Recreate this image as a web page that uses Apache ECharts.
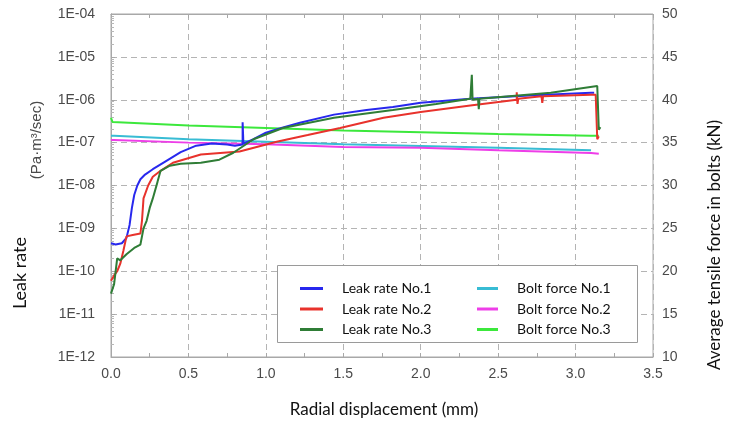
<!DOCTYPE html>
<html>
<head>
<meta charset="utf-8">
<script src="https://cdn.jsdelivr.net/npm/echarts@6/dist/echarts.min.js"></script>
<style>
  html, body { margin: 0; padding: 0; background: #fff; }
  #chart { width: 730px; height: 423px; }
</style>
</head>
<body>
<div id="chart"></div>
<script>
// leak rate curves (left log axis)
const leak1X = [0, 0.03, 0.07, 0.10, 0.12, 0.135, 0.15, 0.17, 0.19, 0.22, 0.27, 0.35, 0.45, 0.55, 0.65, 0.75, 0.80, 0.85, 0.85, 0.855, 0.92, 1.0, 1.1, 1.22, 1.44, 1.65, 1.82, 2.0, 2.32, 2.7, 3.1, 3.12]
const leak1Y = [4.5e-10, 4.2e-10, 4.5e-10, 6e-10, 1.2e-9, 3e-9, 6e-9, 1.0e-8, 1.4e-8, 1.8e-8, 2.4e-8, 3.6e-8, 6e-8, 8.5e-8, 9.5e-8, 9e-8, 8.5e-8, 9e-8, 3e-7, 9.5e-8, 1.2e-7, 1.7e-7, 2.2e-7, 2.9e-7, 4.5e-7, 5.8e-7, 6.8e-7, 8.5e-7, 1.05e-6, 1.25e-6, 1.45e-6, 1.45e-6]

const leak2X = [0, 0.02, 0.04, 0.06, 0.08, 0.10, 0.14, 0.19, 0.20, 0.21, 0.24, 0.27, 0.32, 0.40, 0.58, 0.83, 1.07, 1.27, 1.48, 1.76, 2.0, 2.32, 2.62, 2.62, 2.625, 2.63, 2.78, 2.785, 2.79, 3.1, 3.13, 3.14, 3.15]
const leak2Y = [6e-11, 8e-11, 1e-10, 1.5e-10, 3e-10, 6.5e-10, 7e-10, 7.6e-10, 1.5e-9, 5e-9, 1e-8, 1.6e-8, 2.2e-8, 3.4e-8, 5.3e-8, 6.2e-8, 1.05e-7, 1.5e-7, 2.2e-7, 3.8e-7, 5.2e-7, 7.3e-7, 1.0e-6, 1.5e-6, 8e-7, 1.05e-6, 1.2e-6, 8.5e-7, 1.2e-6, 1.3e-6, 1.3e-6, 1.2e-7, 1.4e-7]

const leak3X = [0, 0.02, 0.04, 0.06, 0.10, 0.15, 0.19, 0.21, 0.23, 0.25, 0.27, 0.30, 0.32, 0.38, 0.45, 0.58, 0.70, 0.79, 0.92, 1.11, 1.44, 1.82, 2.1, 2.32, 2.33, 2.335, 2.37, 2.375, 2.38, 2.84, 3.14, 3.15, 3.16]
const leak3Y = [3e-11, 5e-11, 2e-10, 1.8e-10, 2.5e-10, 3.5e-10, 4.2e-10, 1e-9, 1.5e-9, 3e-9, 5e-9, 1.2e-8, 2.2e-8, 2.9e-8, 3.2e-8, 3.4e-8, 4e-8, 5.8e-8, 1.2e-7, 2.2e-7, 3.8e-7, 5.8e-7, 8e-7, 1.05e-6, 3.8e-6, 1.0e-6, 1.05e-6, 6e-7, 1.05e-6, 1.45e-6, 2.1e-6, 2e-7, 2.3e-7]

// bolt force curves (right axis, kN)
const bolt1X = [0, 0.02, 0.5, 1.0, 1.5, 2.0, 2.5, 3.1]
const bolt1Y = [35.8, 35.8, 35.4, 35.1, 34.8, 34.6, 34.4, 34.1]
const bolt2X = [0, 0.02, 0.5, 1.0, 1.5, 2.0, 2.5, 3.1, 3.15]
const bolt2Y = [35.3, 35.3, 35.0, 34.8, 34.5, 34.4, 34.1, 33.8, 33.7]
const bolt3X = [0, 0.01, 0.02, 0.5, 1.0, 1.5, 2.0, 2.5, 3.1, 3.15]
const bolt3Y = [37.9, 37.4, 37.4, 37.0, 36.7, 36.4, 36.2, 36.0, 35.8, 35.8]

const xTicks = { min: 0, max: 3.5, interval: 0.5 }
const forceTicks = { min: 10, max: 50, interval: 5 }
const leakRange = { min: 1e-12, max: 1e-4 }

const toPairs = (xs, ys) => xs.map((x, i) => [x, ys[i]])

const chart = echarts.init(document.getElementById('chart'), null, { renderer: 'canvas' })

const tickFont = { color: '#4a4a4a', fontSize: 14, fontFamily: 'Liberation Sans, Arial, sans-serif' }
const gridLine = { show: true, lineStyle: { color: '#b4b4b4', type: [6, 4], width: 1 } }
const frame = { show: true, lineStyle: { color: '#a8a8a8', width: 1 } }

function lineSeries(name, xs, ys, color, axis) {
  return {
    name,
    type: 'line',
    yAxisIndex: axis,
    data: toPairs(xs, ys),
    showSymbol: false,
    symbol: 'none',
    lineStyle: { color, width: 2 },
    itemStyle: { color },
    animation: false,
    z: 2
  }
}

const legendText = { fontSize: 14, lineHeight: 17, color: '#111', fontFamily: 'Lato, sans-serif', padding: [0, 0, 0, 14] }

chart.setOption({
  backgroundColor: '#fff',
  grid: { left: 111, right: 77, top: 14, bottom: 66, show: true, borderColor: '#a8a8a8', borderWidth: 1 },
  legend: [
    {
      orient: 'vertical', left: 295, top: 275, itemWidth: 23, itemHeight: 3, itemGap: 3.5, icon: 'rect', z: 6,
      data: ['Leak rate No.1', 'Leak rate No.2', 'Leak rate No.3'],
      textStyle: legendText
    },
    {
      orient: 'vertical', left: 472, top: 275, itemWidth: 21, itemHeight: 3, itemGap: 3.5, icon: 'rect', z: 6,
      data: ['Bolt force No.1', 'Bolt force No.2', 'Bolt force No.3'],
      textStyle: legendText
    }
  ],
  xAxis: [
    {
      type: 'value', min: xTicks.min, max: xTicks.max, interval: xTicks.interval,
      axisLine: frame,
      axisTick: { show: true, inside: true, length: 4, lineStyle: { color: '#a8a8a8' } },
      minorTick: { show: true, splitNumber: 2, length: 4, lineStyle: { color: '#a8a8a8' } },
      splitLine: gridLine,
      axisLabel: { ...tickFont, margin: 10, formatter: v => v.toFixed(1) }
    },
    {
      type: 'value', position: 'top', min: xTicks.min, max: xTicks.max, interval: xTicks.interval,
      axisLine: frame,
      axisTick: { show: true, inside: true, length: 4, lineStyle: { color: '#a8a8a8' } },
      minorTick: { show: true, splitNumber: 2, length: 4, lineStyle: { color: '#a8a8a8' } },
      splitLine: { show: false },
      axisLabel: { show: false }
    }
  ],
  yAxis: [
    {
      type: 'log', logBase: 10, min: leakRange.min, max: leakRange.max, splitNumber: 8,
      axisLine: frame,
      axisTick: { show: true, inside: true, length: 4, lineStyle: { color: '#a8a8a8' } },
      minorTick: { show: true, splitNumber: 9, length: 3, lineStyle: { color: '#b8b8b8' } },
      splitLine: gridLine,
      axisLabel: {
        ...tickFont, margin: 16,
        formatter: v => {
          const e = Math.round(Math.log10(v))
          return '1E' + (e < 0 ? '-' : '+') + String(Math.abs(e)).padStart(2, '0')
        }
      }
    },
    {
      type: 'value', min: forceTicks.min, max: forceTicks.max, interval: forceTicks.interval,
      position: 'right',
      axisLine: frame,
      axisTick: { show: true, inside: false, length: 4, lineStyle: { color: '#a8a8a8' } },
      splitLine: { show: false },
      axisLabel: { ...tickFont, margin: 9 }
    }
  ],
  graphic: [
    {
      type: 'rect', left: 277, top: 265, silent: true,
      shape: { width: 360, height: 77 },
      style: { fill: '#fff', stroke: '#9a9a9a', lineWidth: 1 },
      z: 3
    },
    {
      type: 'text', x: 20, y: 273, rotation: Math.PI / 2, silent: true,
      style: { text: 'Leak rate', fontSize: 18, fontFamily: 'Lato, sans-serif', fill: '#111', align: 'center', verticalAlign: 'middle' }
    },
    {
      type: 'text', x: 37, y: 140, rotation: Math.PI / 2, silent: true,
      style: { text: '(Pa·m³/sec)', fontSize: 15, fontFamily: 'Liberation Sans, Arial, sans-serif', fill: '#4a4a4a', align: 'center', verticalAlign: 'middle' }
    },
    {
      type: 'text', x: 715, y: 245, rotation: Math.PI / 2, silent: true,
      style: { text: 'Average tensile force in bolts (kN)', fontSize: 17, fontFamily: 'Lato, sans-serif', fill: '#111', align: 'center', verticalAlign: 'middle' }
    },
    {
      type: 'text', x: 384, y: 410, silent: true,
      style: { text: 'Radial displacement (mm)', fontSize: 17, fontFamily: 'Lato, sans-serif', fill: '#111', align: 'center', verticalAlign: 'middle' }
    }
  ],
  series: [
    lineSeries('Bolt force No.1', bolt1X, bolt1Y, '#38bcd4', 1),
    lineSeries('Bolt force No.2', bolt2X, bolt2Y, '#ee3ee8', 1),
    lineSeries('Bolt force No.3', bolt3X, bolt3Y, '#3ce83c', 1),
    lineSeries('Leak rate No.1', leak1X, leak1Y, '#2828ee', 0),
    lineSeries('Leak rate No.2', leak2X, leak2Y, '#e8322c', 0),
    lineSeries('Leak rate No.3', leak3X, leak3Y, '#2f7d36', 0)
  ]
})
</script>
</body>
</html>
